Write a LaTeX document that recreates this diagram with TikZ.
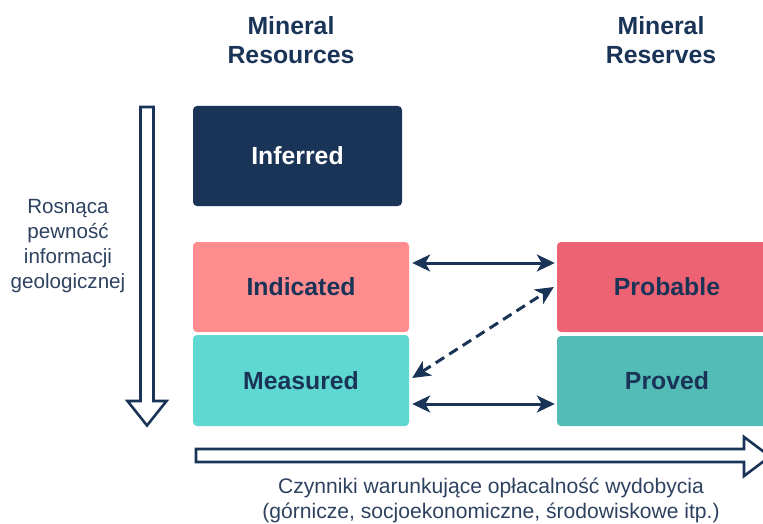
\documentclass[tikz,border=0pt]{standalone}
\usepackage{fontspec}
\setmainfont{Liberation Sans}
\usetikzlibrary{arrows.meta}

\definecolor{navy}{HTML}{1A3458}
\definecolor{greytext}{HTML}{2E4260}
\definecolor{indicatedcol}{HTML}{FF8C8F}
\definecolor{measuredcol}{HTML}{5ED8D0}
\definecolor{probablecol}{HTML}{EE6373}
\definecolor{provedcol}{HTML}{53BCB6}

\begin{document}
\begin{tikzpicture}[x=1pt,y=-1pt,
    heading/.style={align=center,text=navy,font=\fontsize{24.8}{29}\selectfont\bfseries},
    category/.style={rectangle,rounded corners=4pt,inner sep=0pt,text=navy,font=\fontsize{24.8}{29}\selectfont\bfseries},
    note/.style={align=center,text=greytext,font=\fontsize{20.6}{25}\selectfont},
    link/.style={{Stealth[length=18pt,width=17pt,inset=5pt]}-{Stealth[length=18pt,width=17pt,inset=5pt]},line width=3pt,draw=navy},
    blockarrow/.style={draw=navy,fill=white,line width=2.6pt,line join=miter}]
    \path[use as bounding box,clip] (0,0) rectangle (763,524);

    \node[heading] (RES) at (291,40.5) {Mineral\\Resources};
    \node[heading] (RSV) at (661,40.5) {Mineral\\Reserves};

    \node[category,fill=navy,text=white,minimum width=209pt,minimum height=100pt] (INF) at (297.5,156) {Inferred};
    \node[category,fill=indicatedcol,minimum width=216pt,minimum height=90pt] (IND) at (301,287) {Indicated};
    \node[category,fill=measuredcol,minimum width=216pt,minimum height=91pt] (MEA) at (301,380.5) {Measured};
    \node[category,fill=probablecol,minimum width=220pt,minimum height=90pt] (PRB) at (667,287) {Probable};
    \node[category,fill=provedcol,minimum width=220pt,minimum height=90pt] (PRV) at (667,381) {Proved};

    \node[note] (GEO) at (68,246.5) {Rosnąca\\pewność\\informacji\\geologicznej};
    \node[note,font=\fontsize{21.1}{25}\selectfont] (ECO) at (491,500.5) {Czynniki warunkujące opłacalność wydobycia\\(górnicze, socjoekonomiczne, środowiskowe itp.)};

    % hollow block arrows
    \draw[blockarrow] (140.5,107) -- (153.5,107) -- (153.5,401) -- (166.5,401) -- (147,425.5) -- (127.5,401) -- (140.5,401) -- cycle;
    \draw[blockarrow] (196,449) -- (744,449) -- (744,437) -- (770,456.5) -- (744,476) -- (744,462) -- (196,462) -- cycle;

    \draw[link] ([shift={(3,-24)}]IND.east) -- ([shift={(-2,-24)}]PRB.west);
    \draw[link] ([shift={(3,23.5)}]MEA.east) -- ([shift={(-2,23)}]PRV.west);
    \draw[link,dash pattern=on 10pt off 6pt] ([shift={(3,-2.5)}]MEA.east) -- ([shift={(-3,0)}]PRB.west);
\end{tikzpicture}
\end{document}
